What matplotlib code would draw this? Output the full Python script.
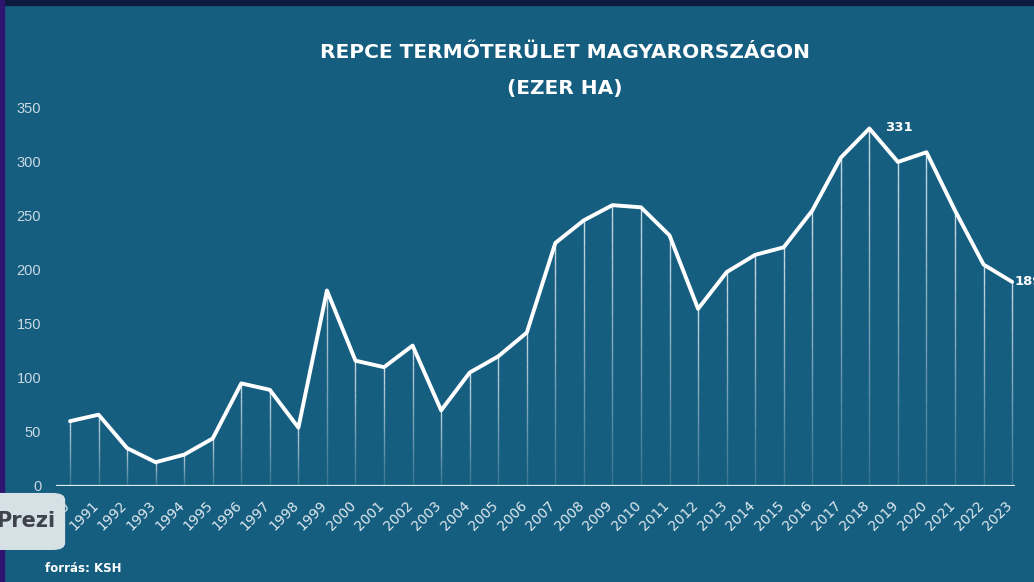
import numpy as np
import matplotlib
matplotlib.use("Agg")
import matplotlib.pyplot as plt
import matplotlib.transforms as mtransforms
from matplotlib.collections import LineCollection
from matplotlib.patches import Rectangle, FancyBboxPatch

# repce termoterulet (ezer ha), KSH
years = list(range(1990, 2024))
area = [60, 66, 35, 22, 29, 44, 95, 89, 54, 181,
        116, 110, 130, 70, 105, 120, 142, 225, 246, 260,
        258, 232, 164, 198, 214, 221, 255, 304, 331, 300,
        309, 255, 205, 189]
yticks = [0, 50, 100, 150, 200, 250, 300, 350]

bg = "#165e80"
fig = plt.figure(figsize=(10.34, 5.82), dpi=100, facecolor=bg)
ax = fig.add_axes([0.0539, 0.165, 0.9277, 0.6495])
ax.set_facecolor(bg)

# drop lines, fading towards the bottom
segs, cols = [], []
for x, v in zip(years, area):
    n = 20
    ys = np.linspace(0, v, n + 1)
    for i in range(n):
        segs.append([(x, ys[i]), (x, ys[i + 1])])
        cols.append((1, 1, 1, 0.15 + 0.65 * (i / n)))
ax.add_collection(LineCollection(segs, colors=cols, linewidths=1.0, zorder=2))

ax.plot(years, area, color="white", lw=2.8, solid_joinstyle="round",
        solid_capstyle="round", zorder=3)
ax.axhline(0, color="#e6eef2", lw=1.6, zorder=4)

# labels for peak and last value
ax.annotate(str(area[years.index(2018)]), (2018, area[years.index(2018)]),
            xytext=(11, 1), textcoords="offset points", color="white",
            fontsize=9.5, fontweight="bold", va="center", ha="left")
ax.annotate(str(area[-1]), (years[-1], area[-1]), xytext=(2, 0),
            textcoords="offset points", color="white", fontsize=9.5,
            fontweight="bold", va="center", ha="left", annotation_clip=False)

ax.set_xlim(1989.5, 2023.1)
ax.set_ylim(0, 350)
ax.set_yticks(yticks)
ax.set_yticklabels([str(t) for t in yticks], color="#c9d9e2",
                   fontsize=10.5, family="Liberation Sans")
ax.set_xticks(years)
ax.set_xticklabels([str(y) for y in years], rotation=45, ha="right",
                   va="top", rotation_mode="anchor", color="#dfe9ee",
                   fontsize=10)
ax.tick_params(axis="y", length=0, pad=10.5)
ax.tick_params(axis="x", length=0, pad=9)
# nudge the rotated year labels a bit to the left
shift = mtransforms.ScaledTranslation(-5 / 72, 0, fig.dpi_scale_trans)
for lab in ax.get_xticklabels():
    lab.set_transform(lab.get_transform() + shift)
for s in ax.spines.values():
    s.set_visible(False)

fig.text(0.546, 0.91, "REPCE TERMŐTERÜLET MAGYARORSZÁGON", color="white",
         fontsize=14.5, fontweight="bold", ha="center", va="center")
fig.text(0.546, 0.848, "(EZER HA)", color="white", fontsize=14.5,
         fontweight="bold", ha="center", va="center")
fig.text(0.044, 0.023, "forrás: KSH", color="white", fontsize=8.5,
         fontweight="bold", ha="left", va="center")

# frame strips
fig.patches.append(Rectangle((0, 0.992), 1, 0.008, transform=fig.transFigure,
                             color="#0b1a3d", zorder=10))
fig.patches.append(Rectangle((0, 0), 0.004, 1, transform=fig.transFigure,
                             color="#2e1670", zorder=10))

# prezi badge
fig.patches.append(FancyBboxPatch((-0.02, 0.055), 0.083, 0.098,
                                  boxstyle="round,pad=0,rounding_size=0.012",
                                  transform=fig.transFigure,
                                  facecolor="#d6e1e6", edgecolor="none",
                                  zorder=10))
fig.text(-0.004, 0.104, "Prezi", color="#3f434d", fontsize=15,
         fontweight="bold", ha="left", va="center", zorder=11)

fig.savefig("out.png", dpi=100, facecolor=bg)
